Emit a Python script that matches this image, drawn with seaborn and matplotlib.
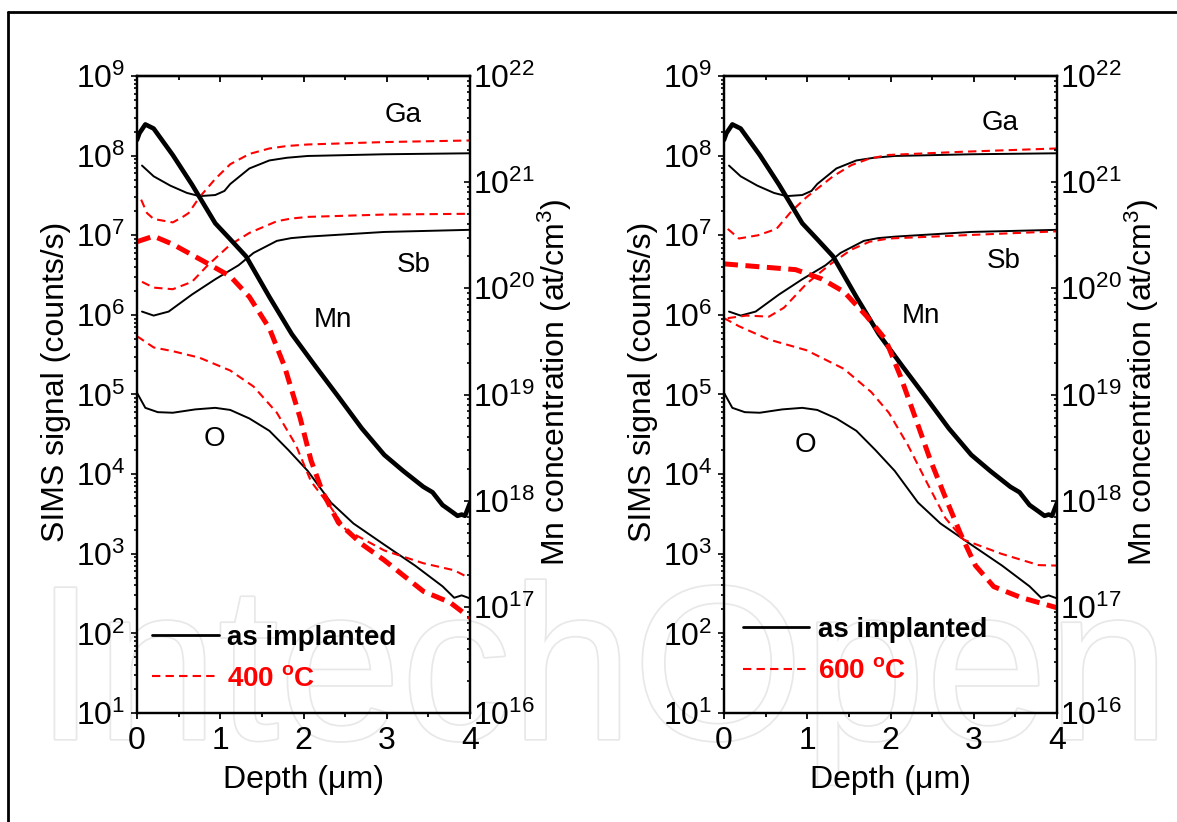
#!/usr/bin/env python3
# -*- coding: utf-8 -*-

import matplotlib
matplotlib.use('Agg')
import matplotlib.pyplot as plt
import matplotlib.patheffects as pe
import seaborn as sns
from matplotlib.lines import Line2D
from matplotlib.ticker import FixedLocator, LogFormatterMathtext, LogLocator, MultipleLocator

# ---- as implanted (same in both panels) ----
ga_impl_x = [0.06, 0.2, 0.4, 0.6, 0.75, 0.94, 1.05, 1.12, 1.35, 1.59, 1.8, 2.05, 2.97, 4.0]
ga_impl_y = [7.5e7, 5.5e7, 4.2e7, 3.4e7, 3.1e7, 3.2e7, 3.6e7, 4.4e7, 6.9e7, 8.7e7, 9.4e7,
             9.9e7, 1.04e8, 1.07e8]

sb_impl_x = [0.06, 0.2, 0.38, 0.66, 0.94, 1.22, 1.4, 1.68, 1.85, 2.05, 2.97, 4.0]
sb_impl_y = [1.1e6, 9.8e5, 1.1e6, 1.8e6, 2.8e6, 4.2e6, 6.0e6, 8.5e6, 9.2e6, 9.6e6, 1.1e7, 1.17e7]

o_impl_x = [0.0, 0.1, 0.25, 0.43, 0.7, 0.94, 1.12, 1.35, 1.59, 1.82, 2.05, 2.33, 2.6, 2.97,
            3.34, 3.67, 3.81, 3.9, 4.0]
o_impl_y = [1.05e5, 6.8e4, 6.0e4, 5.9e4, 6.5e4, 6.8e4, 6.4e4, 5.0e4, 3.5e4, 2.0e4, 1.1e4,
            4.4e3, 2.4e3, 1.3e3, 7.1e2, 3.9e2, 2.8e2, 3.0e2, 2.75e2]

mn_impl_x = [0.0, 0.03, 0.1, 0.2, 0.43, 0.66, 0.94, 1.12, 1.31, 1.59, 1.86, 2.14, 2.42, 2.7,
             2.97, 3.2, 3.44, 3.55, 3.67, 3.77, 3.85, 3.9, 3.94, 4.0]
mn_impl_y = [2.5e21, 2.9e21, 3.5e21, 3.2e21, 1.8e21, 9.5e20, 4.1e20, 2.9e20, 2.0e20, 8.3e19,
             3.7e19, 1.86e19, 9.5e18, 4.8e18, 2.7e18, 1.9e18, 1.35e18, 1.2e18, 9.1e17, 8.0e17,
             7.2e17, 7.4e17, 7.2e17, 9.5e17]

# ---- 400 C ----
ga_400_x = [0.05, 0.12, 0.2, 0.43, 0.55, 0.62, 0.75, 0.94, 1.12, 1.35, 1.59, 1.8, 2.05, 2.97, 4.0]
ga_400_y = [2.8e7, 1.9e7, 1.6e7, 1.45e7, 1.7e7, 1.9e7, 3.0e7, 5.1e7, 7.8e7, 1.05e8, 1.23e8,
            1.32e8, 1.38e8, 1.48e8, 1.55e8]

sb_400_x = [0.06, 0.2, 0.43, 0.66, 0.85, 1.12, 1.35, 1.68, 1.85, 2.05, 2.97, 4.0]
sb_400_y = [2.6e6, 2.2e6, 2.1e6, 2.6e6, 4.2e6, 7.6e6, 1.07e7, 1.5e7, 1.62e7, 1.7e7, 1.82e7, 1.86e7]

o_400_x = [0.0, 0.2, 0.43, 0.75, 1.12, 1.4, 1.68, 1.91, 2.09, 2.33, 2.51, 2.97, 3.44, 3.81, 4.0]
o_400_y = [5.4e5, 3.9e5, 3.5e5, 2.9e5, 2.0e5, 1.26e5, 5.9e4, 2.3e4, 8.1e3, 3.8e3, 2.0e3,
           1.1e3, 7.6e2, 6.2e2, 4.9e2]

mn_400_x = [0.0, 0.2, 0.43, 0.8, 1.12, 1.35, 1.59, 1.77, 1.96, 2.09, 2.23, 2.42, 2.7, 2.97,
            3.44, 3.76, 4.0]
mn_400_y = [2.75e20, 3.1e20, 2.6e20, 1.8e20, 1.3e20, 8.3e19, 4.2e19, 1.86e19, 6.0e18, 2.4e18,
            1.2e18, 6.2e17, 3.9e17, 2.75e17, 1.4e17, 1.1e17, 7.9e16]

# ---- 600 C ----
ga_600_x = [0.045, 0.18, 0.41, 0.63, 0.81, 0.99, 1.31, 1.53, 1.75, 1.98, 2.88, 4.0]
ga_600_y = [1.2e7, 9.1e6, 1.0e7, 1.2e7, 2.0e7, 3.0e7, 5.5e7, 7.6e7, 9.2e7, 1.02e8, 1.12e8, 1.23e8]

sb_600_x = [0.045, 0.27, 0.54, 0.72, 0.99, 1.26, 1.53, 1.75, 1.98, 2.88, 4.0]
sb_600_y = [9.1e5, 9.8e5, 9.5e5, 1.23e6, 2.45e6, 4.2e6, 6.6e6, 8.3e6, 9.1e6, 1.0e7, 1.12e7]

o_600_x = [0.0, 0.18, 0.54, 0.99, 1.44, 1.77, 1.98, 2.21, 2.43, 2.66, 2.88, 3.33, 3.78, 4.0]
o_600_y = [9.1e5, 7.2e5, 4.9e5, 3.6e5, 2.1e5, 1.07e5, 5.9e4, 2.3e4, 8.1e3, 2.8e3, 1.5e3,
           1.0e3, 7.2e2, 7.1e2]

mn_600_x = [0.0, 0.41, 0.86, 1.17, 1.44, 1.71, 1.94, 2.12, 2.3, 2.48, 2.66, 2.84, 3.02, 3.24,
            3.56, 4.0]
mn_600_y = [1.7e20, 1.6e20, 1.5e20, 1.23e20, 9.3e19, 5.5e19, 3.3e19, 1.48e19, 6.0e18, 2.4e18,
            1.07e18, 4.9e17, 2.45e17, 1.55e17, 1.23e17, 9.8e16]

temps = ['400 $^{\\mathbf{o}}$C', '600 $^{\\mathbf{o}}$C']
elements = ['Ga', 'Sb', 'Mn', 'O']
label_x = [[3.2, 3.32, 2.35, 0.93], [3.32, 3.36, 2.36, 0.98]]
label_y = [[3.2e8, 4.2e6, 8.5e5, 2.8e4], [2.6e8, 4.7e6, 9.8e5, 2.3e4]]

sims_ticks = [1e1, 1e2, 1e3, 1e4, 1e5, 1e6, 1e7, 1e8, 1e9]
mn_ticks = [1e16, 1e17, 1e18, 1e19, 1e20, 1e21, 1e22]

panels = [
    (ga_400_x, ga_400_y, sb_400_x, sb_400_y, o_400_x, o_400_y, mn_400_x, mn_400_y),
    (ga_600_x, ga_600_y, sb_600_x, sb_600_y, o_600_x, o_600_y, mn_600_x, mn_600_y),
]

sns.set_style('ticks')
plt.rcParams['font.family'] = ['Liberation Sans', 'DejaVu Sans']
plt.rcParams['mathtext.fontset'] = 'custom'
plt.rcParams['mathtext.rm'] = 'Liberation Sans'
plt.rcParams['mathtext.bf'] = 'Liberation Sans:bold'
plt.rcParams['mathtext.default'] = 'regular'
for key in ['text.color', 'axes.labelcolor', 'xtick.color', 'ytick.color', 'axes.edgecolor']:
    plt.rcParams[key] = 'black'

TICK_FS = 23
LABEL_FS = 23
TEXT_FS = 20
thin_dash = (0, (4, 2.5))
thick_dash = (0, (2.8, 1.5))

fig = plt.figure(figsize=(11.77, 8.22), dpi=100)

# faint publisher watermark behind the plots
fig.text(35 / 1177, 1 - 739 / 822, 'IntechOpen', fontsize=158, color='white',
         ha='left', va='baseline', zorder=-5,
         path_effects=[pe.Stroke(linewidth=2.5, foreground='#e8e8e8'), pe.Normal()])

lefts = [137 / 1177, 724 / 1177]
width = 333 / 1177
bottom = 1 - 713 / 822
height = 637 / 822

for i, (gx, gy, sx, sy, ox, oy, mx, my) in enumerate(panels):
    ax = fig.add_axes([lefts[i], bottom, width, height])
    ax.patch.set_visible(False)
    ax2 = ax.twinx()

    # as implanted, black
    sns.lineplot(x=ga_impl_x, y=ga_impl_y, ax=ax, color='black', linewidth=1.4)
    sns.lineplot(x=sb_impl_x, y=sb_impl_y, ax=ax, color='black', linewidth=1.4)
    sns.lineplot(x=o_impl_x, y=o_impl_y, ax=ax, color='black', linewidth=1.4)
    sns.lineplot(x=mn_impl_x, y=mn_impl_y, ax=ax2, color='black', linewidth=3.3)

    # annealed, red
    sns.lineplot(x=gx, y=gy, ax=ax, color='red', linewidth=1.5, linestyle=thin_dash)
    sns.lineplot(x=sx, y=sy, ax=ax, color='red', linewidth=1.5, linestyle=thin_dash)
    sns.lineplot(x=ox, y=oy, ax=ax, color='red', linewidth=1.5, linestyle=thin_dash)
    sns.lineplot(x=mx, y=my, ax=ax2, color='red', linewidth=3.6, linestyle=thick_dash)

    ax.set_yscale('log')
    ax2.set_yscale('log')
    ax.set_xlim(0, 4)
    ax.set_ylim(1e1, 1e9)
    ax2.set_ylim(1e16, 1e22)

    ax.xaxis.set_major_locator(MultipleLocator(1))
    ax.xaxis.set_minor_locator(MultipleLocator(0.5))
    for a, tk in ((ax, sims_ticks), (ax2, mn_ticks)):
        a.yaxis.set_major_locator(FixedLocator(tk))
        a.yaxis.set_minor_locator(LogLocator(base=10, subs=range(2, 10), numticks=20))
        a.yaxis.set_major_formatter(LogFormatterMathtext())
        for s in a.spines.values():
            s.set_linewidth(1.6)

    # bottom ticks point out, top ticks point in
    ax.tick_params(axis='x', which='both', top=False, labelsize=TICK_FS, width=1.3, pad=5)
    ax.tick_params(axis='x', which='major', length=4.5)
    ax.tick_params(axis='x', which='minor', length=3)
    top = ax.secondary_xaxis('top')
    top.xaxis.set_major_locator(MultipleLocator(1))
    top.xaxis.set_minor_locator(MultipleLocator(0.5))
    top.tick_params(axis='x', which='both', direction='in', labeltop=False, width=1.3)
    top.tick_params(axis='x', which='major', length=4.5)
    top.tick_params(axis='x', which='minor', length=3)
    top.spines['top'].set_linewidth(1.6)

    ax.tick_params(axis='y', which='both', direction='out', labelsize=TICK_FS, width=1.2, pad=4)
    ax.tick_params(axis='y', which='major', length=4.5)
    ax.tick_params(axis='y', which='minor', length=2.5)
    ax2.tick_params(axis='y', which='both', direction='in', labelsize=TICK_FS, width=1.2, pad=2)
    ax2.tick_params(axis='y', which='major', length=4.5)
    ax2.tick_params(axis='y', which='minor', length=2.5)

    ax.set_xlabel('Depth (μm)', fontsize=LABEL_FS, labelpad=6)
    ax.set_ylabel('SIMS signal (counts/s)', fontsize=LABEL_FS)
    ax2.set_ylabel('Mn concentration (at/cm$^3$)', fontsize=LABEL_FS)
    ax.yaxis.set_label_coords(-0.198, 0.52)
    ax2.yaxis.set_label_coords(1.198, 0.52)

    for name, px, py in zip(elements, label_x[i], label_y[i]):
        ax.text(px, py, name, fontsize=TEXT_FS, ha='center', va='center')

    handles = [Line2D([], [], color='black', linewidth=2.0),
               Line2D([], [], color='red', linewidth=1.5, linestyle=thin_dash)]
    leg = ax.legend(handles, ['as implanted', temps[i]], loc='lower left',
                    bbox_to_anchor=([0.045, 0.056][i], [0.033, 0.045][i]), frameon=False,
                    prop={'size': TEXT_FS, 'weight': 'bold'}, handlelength=2.4,
                    handletextpad=0.3, labelspacing=0.55, borderaxespad=0, borderpad=0)
    for t, c in zip(leg.get_texts(), ['black', 'red']):
        t.set_color(c)

# outer frame lines
fig.add_artist(Line2D([8 / 1177, 1.0], [1 - 12 / 822, 1 - 12 / 822],
                      transform=fig.transFigure, color='black', linewidth=2))
fig.add_artist(Line2D([8 / 1177, 8 / 1177], [0.0, 1 - 12 / 822],
                      transform=fig.transFigure, color='black', linewidth=2))

fig.savefig('out.png', dpi=100)
